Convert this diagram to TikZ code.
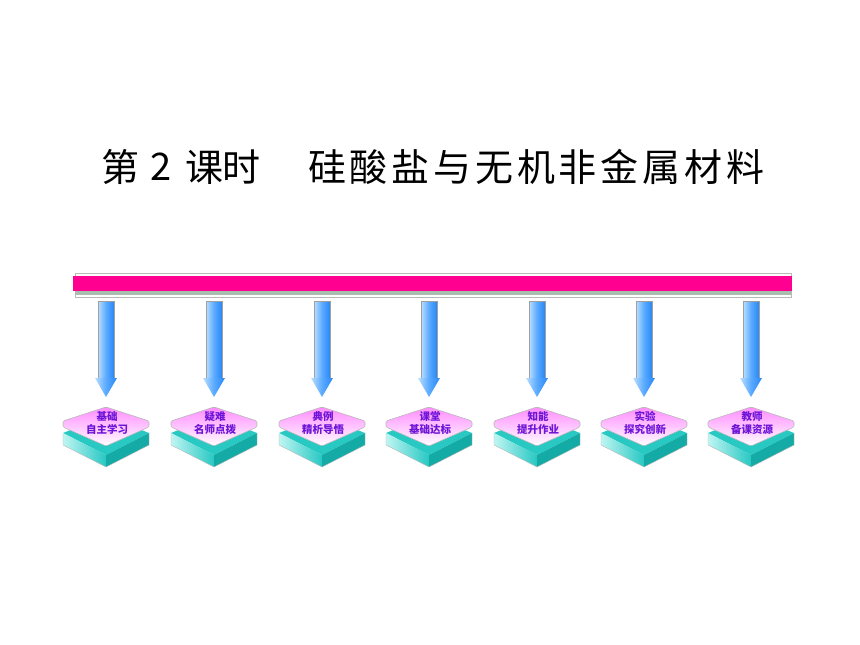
\documentclass[tikz,border=0pt]{standalone}
\usepackage{fontspec}
\newfontfamily\cjk{Noto Sans CJK SC}
\newfontfamily\cjktitle[LetterSpace=10]{Noto Sans CJK SC}
\usetikzlibrary{calc}
\definecolor{barpink}{RGB}{255,0,144}
\definecolor{framegray}{RGB}{185,185,185}
\definecolor{shadowgreen}{RGB}{170,190,175}
\definecolor{shaftgray}{RGB}{160,160,160}
\definecolor{bluelight}{RGB}{185,222,255}
\definecolor{bluemid}{RGB}{90,170,255}
\definecolor{bluedark}{RGB}{40,135,245}
\definecolor{pinktop}{RGB}{255,140,255}
\definecolor{tealdark}{RGB}{20,170,165}
\definecolor{tealmid}{RGB}{40,200,195}
\definecolor{teallight}{RGB}{190,245,242}
\definecolor{labelpurple}{RGB}{110,20,215}
\tikzset{
  shaftbox/.style={draw=shaftgray,line width=1pt,left color=bluelight,right color=bluedark,middle color=bluemid},
  headbox/.style={left color=bluelight,right color=bluedark,middle color=bluemid},
  pinklayer/.style={draw=framegray,line width=0.6pt,top color=pinktop,bottom color=white,rounded corners=1.5pt},
  tealleft/.style={left color=teallight,right color=tealmid},
  tealright/.style={fill=tealdark},
  tealtop/.style={fill=tealmid},
  boxlabel/.style={font=\cjk\bfseries\fontsize{10.5}{13}\selectfont,text=labelpurple,align=center,inner sep=0pt},
  titletext/.style={font=\cjktitle\fontsize{38}{40}\selectfont,text=black,inner sep=0pt},
  titlechar/.style={font=\cjk\fontsize{38}{40}\selectfont,text=black,inner sep=0pt}
}
\begin{document}
\begin{tikzpicture}[x=1pt,y=-1pt]
\useasboundingbox (0,0) rectangle (860,645);
% title
\node[titlechar] (t1a) at (120,167) {第};
\node[titlechar] (t1b) at (161,167) {2};
\node[titlechar] (t1c) at (204,167) {课};
\node[titlechar] (t1d) at (241,167) {时};
\node[titletext,anchor=west] (t2) at (308,167) {硅酸盐与无机非金属材料};
% bar
\node[draw=framegray,line width=0.8pt,fill=white,minimum width=716pt,minimum height=24pt,inner sep=0pt] (frame) at (433,285) {};
\fill[shadowgreen] (75,291) rectangle (791,295);
\node[fill=barpink,minimum width=719pt,minimum height=15pt,inner sep=0pt] (bar) at (432.5,283.5) {};
% arrows and boxes
\foreach \cx/\la/\lb/\n in {106/基础/自主学习/a,214/疑难/名师点拨/b,322/典例/精析导悟/c,429/课堂/基础达标/d,537/知能/提升作业/e,644/实验/探究创新/f,751/教师/备课资源/g}{
  \coordinate (top\n) at (\cx,301);
  \coordinate (tip\n) at (\cx,397);
  % shaft
  \path[shaftbox] ($(top\n)+(-8,0)$) rectangle ($(top\n)+(8,78)$);
  \path[headbox] ($(top\n)+(-11,77)$) -- ($(top\n)+(11,77)$) -- (tip\n) -- cycle;
  % teal slab
  \path[tealtop] (\cx-43,433) -- (\cx,416) -- (\cx+43,433) -- (\cx,455) -- cycle;
  \path[tealleft] (\cx-43,433) -- (\cx,455) -- (\cx,467) -- (\cx-43,445) -- cycle;
  \path[tealright] (\cx,455) -- (\cx+43,433) -- (\cx+43,445) -- (\cx,467) -- cycle;
  \draw[framegray,line width=0.4pt] (\cx-43,433) -- (\cx-43,445) -- (\cx,467) -- (\cx+43,445) -- (\cx+43,433);
  % pink layer
  \path[pinklayer] (\cx-43,421) -- (\cx,407) -- (\cx+43,421) -- (\cx+43,427) -- (\cx,446) -- (\cx-43,427) -- cycle;
  \node[boxlabel] (lab\n) at (\cx+1,423) {\la\\\lb};
}
\end{tikzpicture}
\end{document}
